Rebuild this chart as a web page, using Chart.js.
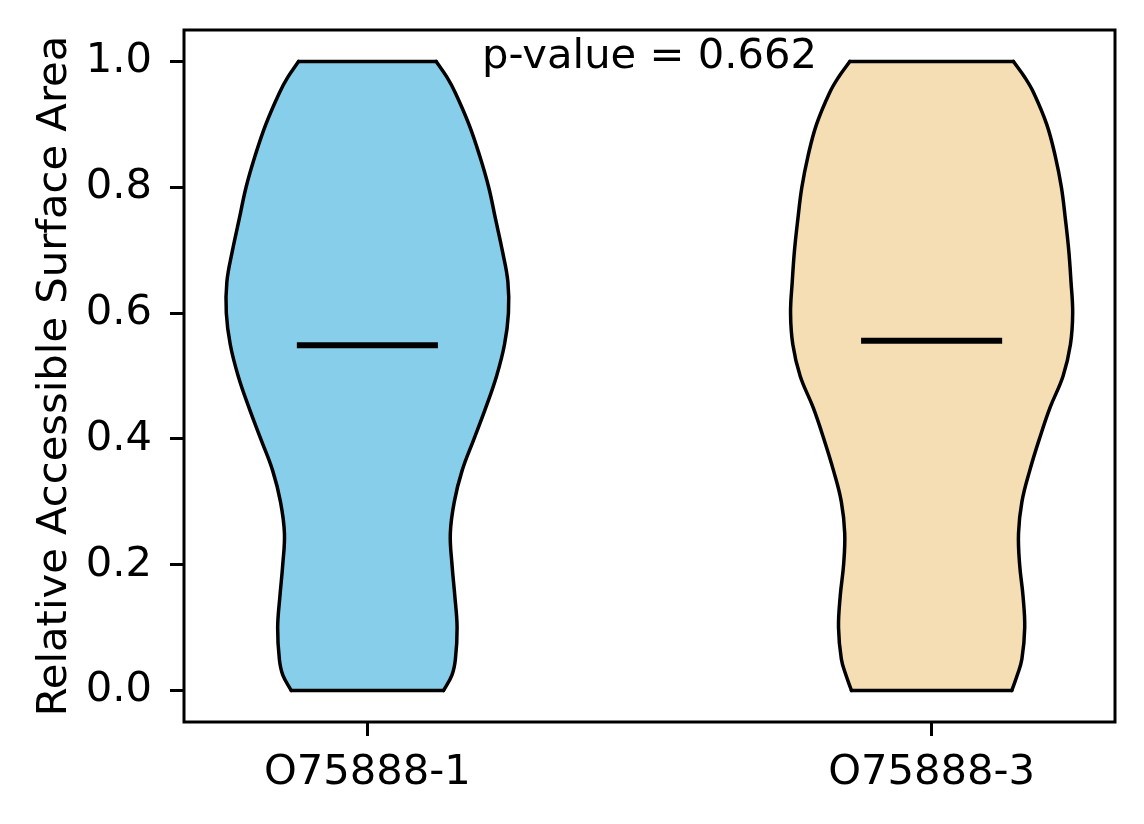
<!DOCTYPE html>
<html>
<head>
<meta charset="utf-8">
<script src="https://cdn.jsdelivr.net/npm/chart.js@4.4.0/dist/chart.umd.min.js"></script>
<style>
  html, body { margin: 0; padding: 0; background: #fff; }
  #wrap { width: 1144px; height: 824px; }
</style>
</head>
<body>
<div id="wrap"><canvas id="chart" width="1144" height="824"></canvas></div>
<script>
// --- DATA ---
const groups = ['O75888-1', 'O75888-3'];
const positions = [1, 2];
const colors = ['#87CEEB', '#F5DEB3'];

// y levels where the violin outline was read
const levels = [0, 0.025, 0.05, 0.1, 0.15, 0.2, 0.25, 0.3, 0.35, 0.4, 0.45, 0.5,
  0.55, 0.6, 0.65, 0.7, 0.75, 0.8, 0.85, 0.9, 0.95, 0.975, 1.0];

// half widths of each violin at those levels (x-axis units)
const halfWidth1 = [0.135, 0.150, 0.156, 0.159, 0.155, 0.150, 0.147, 0.154, 0.168, 0.189, 0.210, 0.229,
  0.243, 0.250, 0.249, 0.239, 0.227, 0.215, 0.199, 0.180, 0.156, 0.141, 0.122];
const halfWidth2 = [0.142, 0.152, 0.160, 0.165, 0.162, 0.156, 0.154, 0.160, 0.174, 0.191, 0.210, 0.233,
  0.246, 0.250, 0.247, 0.243, 0.237, 0.230, 0.219, 0.204, 0.181, 0.165, 0.145];

const medians = [0.549, 0.556];
const medianHalf = 0.125;
const pValueText = 'p-value = 0.662';

const yTicks = [0, 0.2, 0.4, 0.6, 0.8, 1.0];

// --- BUILD ---
const FONT = 'DejaVu Sans';
const FS = 41.7;
const halfWidths = [halfWidth1, halfWidth2];

function edge(pos, hw, side, descending) {
  const pts = levels.map((y, i) => ({ x: pos + side * hw[i], y }));
  return descending ? pts.reverse() : pts;
}

function lineDs(label, data, extra) {
  return Object.assign({
    label, data, showLine: true, borderColor: '#000', borderWidth: 3.5,
    pointRadius: 0, tension: 0, borderCapStyle: 'round', borderJoinStyle: 'round'
  }, extra || {});
}

const datasets = [];
groups.forEach((g, i) => {
  const p = positions[i], hw = halfWidths[i];
  const last = levels.length - 1;
  // left edge goes bottom -> top, right edge top -> bottom, so the two make one outline
  datasets.push(lineDs(g + ' left', edge(p, hw, -1, false), { tension: 0.4, violin: i }));
  datasets.push(lineDs(g + ' right', edge(p, hw, 1, true), { tension: 0.4, violin: i }));
  datasets.push(lineDs(g + ' top', [{ x: p - hw[last], y: levels[last] }, { x: p + hw[last], y: levels[last] }]));
  datasets.push(lineDs(g + ' bottom', [{ x: p - hw[0], y: levels[0] }, { x: p + hw[0], y: levels[0] }]));
});
groups.forEach((g, i) => {
  datasets.push(lineDs(g + ' median',
    [{ x: positions[i] - medianHalf, y: medians[i] }, { x: positions[i] + medianHalf, y: medians[i] }],
    { borderWidth: 6, borderCapStyle: 'butt' }));
});

// fill the violin bodies with the same curves the edges are stroked with
const violinFill = {
  id: 'violinFill',
  beforeDatasetsDraw(chart) {
    const ctx = chart.ctx;
    groups.forEach((g, v) => {
      const idx = chart.data.datasets.map((d, k) => (d.violin === v ? k : -1)).filter(k => k >= 0);
      const left = chart.getDatasetMeta(idx[0]).dataset;
      const right = chart.getDatasetMeta(idx[1]).dataset;
      ctx.save();
      ctx.beginPath();
      left.path(ctx);
      right.segments.forEach(seg => right.pathSegment(ctx, seg, { move: false }));
      ctx.closePath();
      ctx.fillStyle = colors[v];
      ctx.fill();
      ctx.restore();
    });
  }
};

// axes box + annotation
const frame = {
  id: 'frame',
  afterDraw(chart) {
    const { ctx, chartArea: a, scales } = chart;
    ctx.save();
    ctx.strokeStyle = '#000';
    ctx.lineWidth = 3;
    ctx.strokeRect(a.left, a.top, a.right - a.left, a.bottom - a.top);
    ctx.fillStyle = '#000';
    ctx.font = FS + 'px "' + FONT + '"';
    ctx.textAlign = 'center';
    ctx.textBaseline = 'alphabetic';
    ctx.fillText(pValueText, scales.x.getPixelForValue(1.5), scales.y.getPixelForValue(0.99));
    ctx.restore();
  }
};

// --- CHART ---
new Chart(document.getElementById('chart'), {
  type: 'scatter',
  data: { datasets },
  options: {
    responsive: false,
    devicePixelRatio: 1,
    animation: false,
    layout: { padding: { left: 0, top: 30, right: 29, bottom: 0 } },
    plugins: { legend: { display: false }, tooltip: { enabled: false } },
    scales: {
      x: {
        type: 'linear',
        min: 0.675, max: 2.325,
        afterBuildTicks: s => { s.ticks = positions.map(v => ({ value: v })); },
        afterFit: s => { s.height = 102; s.paddingLeft = 0; s.paddingRight = 0; },
        border: { display: false },
        grid: { drawOnChartArea: false, drawTicks: true, tickLength: 14, tickWidth: 3, tickColor: '#000' },
        ticks: {
          color: '#000', padding: 12, maxRotation: 0,
          font: { family: FONT, size: FS },
          callback: (v, i) => groups[i]
        }
      },
      y: {
        min: -0.05, max: 1.05,
        afterBuildTicks: s => { s.ticks = yTicks.map(v => ({ value: v })); },
        afterFit: s => { s.width = 184; s.paddingTop = 0; s.paddingBottom = 0; },
        border: { display: false },
        grid: { drawOnChartArea: false, drawTicks: true, tickLength: 14, tickWidth: 3, tickColor: '#000' },
        ticks: {
          color: '#000', padding: 18,
          font: { family: FONT, size: FS },
          callback: v => v.toFixed(1)
        },
        title: {
          display: true,
          text: 'Relative Accessible Surface Area',
          color: '#000',
          font: { family: FONT, size: FS, lineHeight: 1.2 },
          padding: { top: 30, bottom: 0 }
        }
      }
    }
  },
  plugins: [violinFill, frame]
});
</script>
</body>
</html>
